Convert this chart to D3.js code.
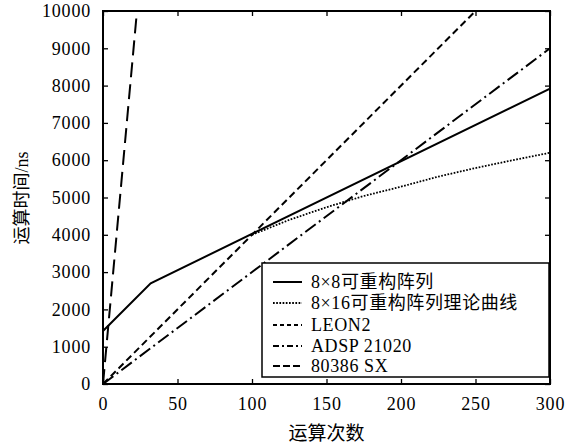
<!DOCTYPE html>
<html>
<head>
<meta charset="utf-8">
<script src="https://cdn.jsdelivr.net/npm/d3@7"></script>
<style>
  body { margin: 0; background: #fff; }
  text { font-family: "Liberation Serif", "Noto Sans CJK SC", serif; fill: #000; }
</style>
</head>
<body>
<div id="chart"></div>
<script>
// series values
var arr8x8 = [[0, 1420], [32, 2700], [300, 7920]];
var arr8x16 = [[100, 4000], [125, 4400], [150, 4740], [175, 5040], [200, 5290], [225, 5560], [250, 5790], [275, 6000], [300, 6200]];
var leon2 = [[0, 0], [250, 10000]];
var adsp = [[0, 0], [300, 9000]];
var i80386 = [[0, 0], [22.8, 10000]];

var xTicks = [0, 50, 100, 150, 200, 250, 300];
var yTicks = [0, 1000, 2000, 3000, 4000, 5000, 6000, 7000, 8000, 9000, 10000];

var seriesNames = ["8\u00d78可重构阵列", "8\u00d716可重构阵列理论曲线", "LEON2", "ADSP 21020", "80386 SX"];

var width = 571, height = 444;
var margin = {top: 11, right: 21, bottom: 60, left: 103};
var w = width - margin.left - margin.right;
var h = height - margin.top - margin.bottom;

var svg = d3.select("#chart").append("svg")
	.attr("width", width)
	.attr("height", height);

var g = svg.append("g")
	.attr("transform", "translate(" + margin.left + "," + margin.top + ")");

var x = d3.scaleLinear().domain([0, 300]).range([0, w]);
var y = d3.scaleLinear().domain([0, 10000]).range([h, 0]);

// clip lines to the plot area
g.append("clipPath").attr("id", "clip")
	.append("rect").attr("width", w).attr("height", h);

var line = d3.line()
	.x(function(d) { return x(d[0]); })
	.y(function(d) { return y(d[1]); });

var styles = [
	{data: arr8x8, dash: null, sw: 2},
	{data: arr8x16, dash: "1.7,1.5", sw: 1.8},
	{data: leon2, dash: "7,4", sw: 2},
	{data: adsp, dash: "13,4,2,4", sw: 2},
	{data: i80386, dash: "15,7", sw: 2}
];

var lines = g.append("g").attr("clip-path", "url(#clip)");
styles.forEach(function(s) {
	lines.append("path")
		.datum(s.data)
		.attr("d", line)
		.attr("fill", "none")
		.attr("stroke", "#000")
		.attr("stroke-width", s.sw)
		.attr("stroke-dasharray", s.dash);
});

// axes, ticks pointing inward on all four sides
var fmt = d3.format("d");
var xAxis = g.append("g")
	.attr("transform", "translate(0," + h + ")")
	.call(d3.axisBottom(x).tickValues(xTicks).tickFormat(fmt).tickSizeInner(-5).tickSizeOuter(0).tickPadding(13));
var yAxis = g.append("g")
	.call(d3.axisLeft(y).tickValues(yTicks).tickFormat(fmt).tickSizeInner(-5).tickSizeOuter(0).tickPadding(12));
var xTop = g.append("g")
	.call(d3.axisTop(x).tickValues(xTicks).tickSizeInner(-5).tickSizeOuter(0).tickFormat(""));
var yRight = g.append("g")
	.attr("transform", "translate(" + w + ",0)")
	.call(d3.axisRight(y).tickValues(yTicks).tickSizeInner(-5).tickSizeOuter(0).tickFormat(""));

[xAxis, yAxis, xTop, yRight].forEach(function(a) {
	a.attr("font-family", "Liberation Serif").attr("font-size", 18);
	a.select(".domain").remove();
	a.selectAll("line").attr("stroke", "#000").attr("stroke-width", 1.3);
	a.selectAll("text")
		.attr("font-family", "Liberation Serif")
		.attr("letter-spacing", "0.8")
		.attr("fill", "#000");
});

// frame
g.append("rect")
	.attr("width", w)
	.attr("height", h)
	.attr("fill", "none")
	.attr("stroke", "#000")
	.attr("stroke-width", 2);

// legend
var lg = g.append("g")
	.attr("transform", "translate(" + (262 - margin.left) + "," + (263 - margin.top) + ")");
lg.append("rect")
	.attr("width", 287)
	.attr("height", 114)
	.attr("fill", "#fff")
	.attr("stroke", "#000")
	.attr("stroke-width", 1.5);

var rowY = [19, 40, 62, 83, 103];
styles.forEach(function(s, i) {
	lg.append("line")
		.attr("x1", 11).attr("x2", 40)
		.attr("y1", rowY[i]).attr("y2", rowY[i])
		.attr("stroke", "#000")
		.attr("stroke-width", s.sw)
		.attr("stroke-dasharray", i == 4 ? "7,3" : (i == 3 ? "6,3,2,3" : (i == 2 ? "4,3" : s.dash)));
	lg.append("text")
		.attr("x", 49)
		.attr("y", rowY[i])
		.attr("dy", "0.35em")
		.attr("letter-spacing", "0.6")
		.style("font-size", "18px")
		.text(seriesNames[i]);
});

// axis titles
svg.append("text")
	.attr("x", margin.left + w / 2)
	.attr("y", 440)
	.attr("text-anchor", "middle")
	.style("font-size", "19px")
	.text("运算次数");

svg.append("text")
	.attr("transform", "translate(28," + (margin.top + 187) + ") rotate(-90)")
	.attr("text-anchor", "middle")
	.style("font-size", "18px")
	.text("运算时间/ns");
</script>
</body>
</html>
